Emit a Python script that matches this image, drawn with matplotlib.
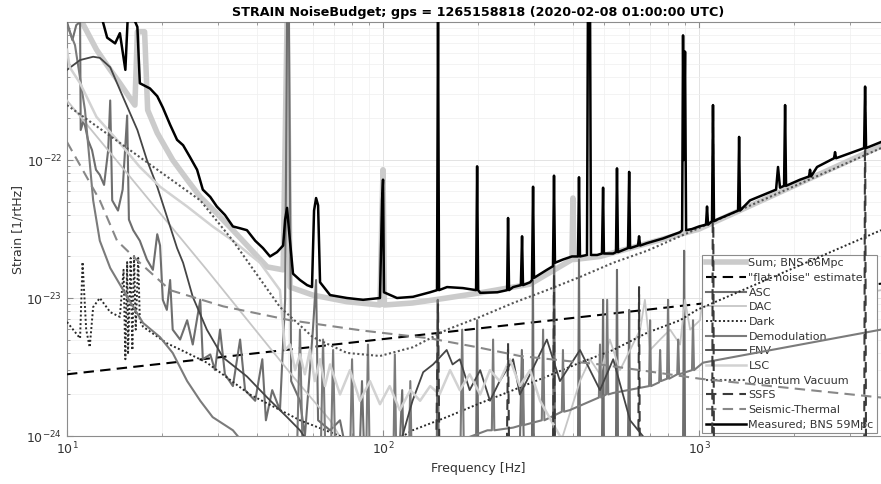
import numpy as np
import matplotlib
matplotlib.use('Agg')
import matplotlib.pyplot as plt

TITLE = 'STRAIN NoiseBudget; gps = 1265158818 (2020-02-08 01:00:00 UTC)'

# (frequency [Hz], strain [1/rtHz]) pairs
measured = [
    (12.6, 1.3e-21), (13.4, 7.7e-22), (14.2, 7.0e-22), (14.7, 8.3e-22), (15.3, 4.5e-22),
    (15.6, 1.2e-21), (15.9, 1.2e-21), (16.7, 9.2e-22), (17.0, 3.6e-22), (18.3, 3.3e-22),
    (19.3, 2.9e-22), (20.1, 2.4e-22), (21.2, 1.8e-22), (22.3, 1.4e-22), (23.3, 1.28e-22),
    (24.5, 1.05e-22), (25.8, 8.5e-23), (26.9, 6.1e-23), (28.4, 5.4e-23), (29.8, 4.6e-23),
    (31.6, 4.0e-23), (33.5, 3.3e-23), (35.3, 3.2e-23), (37.1, 3.1e-23), (39.4, 2.6e-23),
    (41.7, 2.3e-23), (43.9, 2.0e-23), (46.2, 2.15e-23), (48.3, 2.4e-23), (49.0, 3.7e-23),
    (49.7, 4.5e-23), (50.4, 3.1e-23), (51.9, 1.5e-23), (54.6, 1.35e-23), (57.5, 1.24e-23),
    (59.6, 1.2e-23), (60.5, 4.3e-23), (61.4, 5.3e-23), (62.3, 4.7e-23), (63.2, 1.3e-23),
    (68.0, 1.05e-23), (76.9, 1.0e-23), (86.5, 9.7e-24), (97.8, 1.0e-23), (99.3, 5.1e-23),
    (100, 7.2e-23), (100.7, 1.1e-23), (110.7, 1.0e-23), (124.4, 1.02e-23), (140.8, 1.1e-23),
    (148.2, 1.14e-23), (149.3, 1.2e-21), (150.4, 1.14e-23), (159.4, 1.2e-23), (179, 1.18e-23),
    (197, 1.14e-23), (198.5, 9.0e-23), (200, 1.14e-23), (203, 1.09e-23), (230, 1.1e-23),
    (247, 1.14e-23), (248.7, 3.8e-23), (250.5, 1.14e-23), (258, 1.2e-23), (273, 1.24e-23),
    (275.4, 2.8e-23), (277.3, 1.24e-23), (292, 1.3e-23), (296, 1.35e-23), (298.4, 6.4e-23),
    (300.5, 1.4e-23), (330, 1.6e-23), (345, 1.7e-23), (347.6, 7.7e-23), (350, 1.8e-23),
    (371, 1.9e-23), (396, 2.0e-23), (414, 2.0e-23), (417, 7.5e-23), (420, 2.0e-23),
    (442, 2.05e-23), (445, 1.2e-21), (452, 1.2e-21), (455, 2.05e-23), (476, 2.05e-23),
    (493, 2.1e-23), (497, 6.3e-23), (500, 2.1e-23), (535, 2.1e-23), (546, 2.15e-23),
    (550, 8.7e-23), (554, 2.15e-23), (596, 2.3e-23), (601, 8.2e-23), (605, 2.3e-23),
    (641, 2.4e-23), (646, 2.8e-23), (651, 2.4e-23), (685, 2.5e-23), (769, 2.7e-23),
    (871, 3.0e-23), (884, 3.1e-23), (890, 8.0e-22), (895, 1.0e-22), (903, 6.1e-22),
    (910, 3.1e-23), (950, 3.16e-23), (1000, 3.3e-23), (1052, 3.4e-23), (1060, 4.6e-23),
    (1068, 3.4e-23), (1099, 3.6e-23), (1107, 2.5e-22), (1115, 3.6e-23), (1140, 3.7e-23),
    (1329, 4.3e-23), (1339, 1.47e-22), (1348, 4.3e-23), (1450, 5.1e-23), (1753, 6.1e-23),
    (1778, 8.9e-23), (1804, 6.3e-23), (1858, 6.5e-23), (1872, 2.5e-22), (1885, 6.5e-23),
    (2087, 7.2e-23), (2229, 7.6e-23), (2245, 8.5e-23), (2262, 7.6e-23), (2363, 8.9e-23),
    (2674, 1.03e-22), (2694, 1.14e-22), (2714, 1.03e-22), (3005, 1.12e-22), (3329, 1.22e-22),
    (3353, 3.4e-22), (3377, 1.22e-22), (3767, 1.35e-22),
]

noise_sum = [
    (10.9, 1.2e-21), (11.2, 9.8e-22), (12.4, 6.3e-22), (13.7, 4.5e-22), (14.7, 3.6e-22),
    (16.2, 2.6e-22), (16.4, 2.5e-22), (16.7, 8.5e-22), (17.6, 8.5e-22), (18.0, 2.3e-22),
    (19.3, 1.57e-22), (21.6, 1.0e-22), (24.0, 7.2e-23), (26.4, 5.4e-23), (29.8, 4.1e-23),
    (33.5, 3.1e-23), (43.0, 1.68e-23), (48.3, 1.6e-23), (49.7, 1.0e-21), (50.8, 1.2e-23),
    (60.0, 1.05e-23), (76.9, 9.4e-24), (97.8, 8.9e-24), (100, 8.5e-23), (101, 8.9e-24),
    (124, 9.2e-24), (159, 1.0e-23), (203, 1.09e-23), (292, 1.26e-23), (396, 1.9e-23),
    (399, 5.3e-23), (402, 1.9e-23), (486, 2.0e-23), (1000, 3.16e-23), (3767, 1.26e-22),
]

flat_noise = [(10, 2.8e-24), (1060, 9.2e-24), (3767, 1.27e-23)]

asc = [
    (10, 1.0e-21), (10.4, 7.4e-22), (10.7, 9.5e-22), (11.0, 1.0e-21), (11.05, 1.65e-22),
    (11.3, 1.95e-22), (11.65, 1.4e-22), (12.0, 1.18e-22), (12.35, 8.5e-23), (12.7, 7.8e-23),
    (13.1, 6.6e-23), (13.5, 1.18e-22), (13.7, 2.7e-22), (13.9, 5.1e-23), (14.5, 4.3e-23),
    (15.0, 6.1e-23), (15.5, 2.1e-22), (15.7, 3.7e-23), (16.2, 3.1e-23), (17.0, 2.6e-23),
    (17.9, 1.9e-23), (18.7, 1.6e-23), (19.3, 2.9e-23), (19.7, 2.4e-23), (20.1, 9.7e-24),
    (20.7, 8.2e-24), (21.2, 1.35e-23), (21.6, 5.9e-24), (22.8, 5.0e-24), (24.0, 6.9e-24),
    (25.0, 4.6e-24), (26.4, 9.7e-24), (26.9, 3.6e-24), (28.4, 3.9e-24), (29.4, 3.0e-24),
    (30.5, 5.9e-24), (31.6, 2.8e-24), (33.5, 2.3e-24), (35.3, 5.0e-24), (36.6, 2.15e-24),
    (39.4, 1.8e-24), (41.5, 3.6e-24), (42.6, 1.3e-24), (44.6, 2.15e-24), (47.2, 1.54e-24),
    (49.0, 9.7e-24), (49.7, 1.0e-21), (50.4, 1.0e-21), (51.2, 2.5e-24), (54.6, 1.8e-24),
    (56.6, 1.0e-24), (60.0, 5.9e-24), (61.4, 1.35e-23), (62.3, 1.3e-24), (68.0, 1.1e-24),
    (73.1, 1.3e-24), (75.8, 8.6e-25), (84.5, 8.6e-25), (85.8, 2.5e-24), (87.0, 8.6e-25),
    (113, 8.6e-25), (115, 2.15e-24), (116, 8.6e-25), (148, 8.6e-25), (149, 9.7e-24),
    (150, 8.6e-25), (197, 8.6e-25), (198.5, 6.9e-24), (200, 8.6e-25), (271, 8.6e-25),
    (275, 4.2e-24), (279, 8.6e-25), (296, 8.6e-25), (298, 1.35e-23), (300, 8.6e-25),
    (345, 9e-25), (348, 2.6e-23), (350, 9e-25), (414, 9e-25), (417, 1.9e-23), (420, 9e-25),
    (493, 9e-25), (497, 9.7e-24), (500, 9e-25), (546, 9e-25), (550, 1.6e-23), (554, 9e-25),
    (596, 9e-25), (601, 8.2e-24), (605, 9e-25), (890, 9e-25), (897, 2.2e-23), (903, 9e-25),
    (3767, 9e-25),
]

dac = [
    (10, 2.7e-22), (27.7, 1.6e-23), (51.9, 2.7e-24), (68.0, 1.3e-24), (75.8, 8.6e-25),
    (363, 8.6e-25), (420, 2.5e-24), (452, 3.6e-24), (486, 2.8e-24), (522, 5.0e-24),
    (562, 3.0e-24), (605, 4.2e-24), (651, 5.9e-24), (674, 9.7e-24), (700, 4.2e-24),
    (753, 5.0e-24), (810, 5.9e-24), (871, 4.6e-24), (903, 9.7e-24), (937, 5.9e-24),
    (1007, 6.9e-24), (1045, 1.35e-23), (1083, 6.9e-24), (3767, 1.14e-23),
]

dark = [
    (10, 6.7e-24), (11.0, 5.1e-24), (11.2, 1.82e-23), (11.5, 5.9e-24), (11.8, 4.4e-24),
    (12.1, 8.6e-24), (12.7, 1.0e-23), (13.7, 7.9e-24), (14.7, 7.3e-24), (15.1, 1.6e-23),
    (15.3, 3.6e-24), (15.5, 1.82e-23), (15.6, 3.9e-24), (15.9, 1.95e-23), (16.1, 4.2e-24),
    (16.3, 2.05e-23), (16.5, 5.9e-24), (16.8, 1.95e-23), (17.0, 6.9e-24), (17.4, 6.2e-24),
    (20.7, 4.7e-24), (24.0, 4.0e-24), (27.7, 3.4e-24), (37.9, 2.0e-24), (54.6, 1.3e-24),
    (73.1, 1.0e-24), (97.8, 7.9e-25), (124, 1.1e-24), (159, 1.37e-24), (203, 1.73e-24),
    (258, 2.15e-24), (330, 2.7e-24), (420, 3.4e-24), (535, 4.2e-24), (685, 5.6e-24),
    (871, 6.9e-24), (985, 8.2e-24), (3767, 3.1e-23),
]

demodulation = [
    (10, 9.5e-22), (10.6, 6.8e-22), (11.4, 2.3e-22), (12.1, 5.1e-23), (12.7, 2.6e-23),
    (13.7, 1.65e-23), (15.5, 1.02e-23), (17.4, 6.6e-24), (19.7, 5.2e-24), (21.6, 4.0e-24),
    (24.0, 2.5e-24), (26.4, 1.8e-24), (28.9, 1.37e-24), (33.5, 1.1e-24), (36.6, 8.6e-25),
    (53.5, 8.6e-25), (54.6, 5.9e-24), (55.6, 8.6e-25), (63.6, 8.6e-25), (64.6, 5.0e-24),
    (65.6, 8.6e-25), (68.5, 8.6e-25), (69.5, 4.2e-24), (70.5, 8.6e-25), (78.8, 8.6e-25),
    (79.8, 3.6e-24), (80.8, 8.6e-25), (88.6, 8.6e-25), (89.6, 4.6e-24), (90.6, 8.6e-25),
    (108, 8.6e-25), (109, 3.9e-24), (110, 8.6e-25), (121, 8.6e-25), (122, 2.5e-24),
    (123, 8.6e-25), (131, 8.6e-25), (176, 9.5e-25), (178, 5.9e-24), (180, 9.5e-25),
    (214, 1.1e-24), (221, 1.1e-24), (223, 5.0e-24), (225, 1.1e-24), (258, 1.15e-24),
    (275, 1.2e-24), (277, 3.6e-24), (279, 1.2e-24), (318, 1.3e-24), (321, 5.9e-24),
    (324, 1.3e-24), (368, 1.5e-24), (371, 4.2e-24), (374, 1.5e-24), (390, 1.54e-24),
    (482, 1.9e-24), (486, 4.6e-24), (490, 1.9e-24), (508, 2.0e-24), (512, 9.7e-24),
    (516, 2.0e-24), (535, 2.05e-24), (695, 2.3e-24), (700, 6.9e-24), (705, 2.3e-24),
    (748, 2.45e-24), (753, 4.2e-24), (758, 2.5e-24), (792, 2.6e-24), (798, 9.7e-24),
    (804, 2.6e-24), (853, 2.8e-24), (859, 5.0e-24), (865, 2.8e-24), (950, 3.0e-24),
    (957, 6.9e-24), (964, 3.0e-24), (1030, 3.4e-24), (3767, 5.9e-24),
]

env = [
    (10, 4.5e-22), (11.0, 5.3e-22), (12.1, 5.6e-22), (12.7, 5.5e-22), (13.7, 4.7e-22),
    (15.0, 2.9e-22), (16.7, 1.65e-22), (17.9, 1.0e-22), (19.3, 6.4e-23), (20.7, 3.9e-23),
    (22.3, 2.3e-23), (23.3, 1.8e-23), (25.0, 1.02e-23), (27.7, 5.9e-24), (31.2, 3.7e-24),
    (37.1, 2.7e-24), (43.0, 1.9e-24), (49.7, 1.37e-24), (54.6, 1.1e-24), (58.7, 8.6e-25),
    (113, 8.6e-25), (124, 1.8e-24), (134, 2.9e-24), (144, 3.3e-24), (151, 3.7e-24),
    (159, 4.2e-24), (166, 3.3e-24), (175, 3.6e-24), (188, 2.15e-24), (203, 3.0e-24),
    (218, 1.8e-24), (234, 2.5e-24), (258, 3.6e-24), (271, 2.0e-24), (292, 2.8e-24),
    (330, 5.0e-24), (363, 2.5e-24), (420, 4.2e-24), (486, 2.15e-24), (535, 3.6e-24),
    (605, 1.3e-24), (700, 8.6e-25), (3767, 8.6e-25),
]

lsc = [
    (10, 6.3e-22), (10.2, 4.7e-22), (11.0, 3.6e-22), (12.4, 2.05e-22), (14.4, 1.4e-22),
    (17.0, 8.9e-23), (19.7, 6.4e-23), (24.0, 4.6e-23), (28.9, 3.3e-23), (33.5, 2.6e-23),
    (40.8, 1.8e-23), (47.2, 1.14e-23), (49.0, 4.2e-24), (50.8, 4.6e-24), (52.7, 3.0e-24),
    (54.6, 3.9e-24), (56.6, 2.8e-24), (58.7, 4.2e-24), (60.8, 2.5e-24), (63.2, 3.6e-24),
    (65.5, 2.3e-24), (68.0, 3.3e-24), (73.1, 2.0e-24), (78.6, 3.0e-24), (84.5, 1.8e-24),
    (90.9, 2.5e-24), (97.8, 1.7e-24), (105, 2.3e-24), (113, 1.54e-24), (122, 2.15e-24),
    (131, 1.8e-24), (141, 2.3e-24), (151, 2.0e-24), (163, 3.0e-24), (175, 2.15e-24),
    (188, 2.8e-24), (203, 2.0e-24), (218, 3.0e-24), (234, 2.5e-24), (252, 3.6e-24),
    (271, 2.3e-24), (292, 3.0e-24), (314, 1.8e-24), (363, 1.0e-24), (420, 8.6e-25),
    (3767, 8.6e-25),
]

quantum = [
    (10, 2.5e-22), (26.4, 5.1e-23), (33.5, 2.6e-23), (47.2, 8.6e-24), (60.0, 5.2e-24),
    (76.9, 4.0e-24), (97.8, 3.8e-24), (124.4, 4.4e-24), (159.4, 5.9e-24), (203, 7.3e-24),
    (258, 9.2e-24), (330, 1.14e-23), (420, 1.42e-23), (535, 1.8e-23), (685, 2.2e-23),
    (871, 2.8e-23), (3767, 1.22e-22),
]

ssfs = [
    (10, 5e-25), (147, 5e-25), (149.3, 9e-24), (151, 5e-25), (246, 5e-25), (248.7, 4.7e-24),
    (251, 5e-25), (345, 5e-25), (347.6, 1.5e-23), (350, 5e-25), (642, 5e-25), (645.9, 1.2e-23),
    (650, 5e-25), (1100, 5e-25), (1107, 2.5e-22), (1115, 5e-25), (3330, 5e-25),
    (3353, 3.4e-22), (3377, 5e-25), (3767, 5e-25),
]

seismic_thermal = [
    (10, 1.35e-22), (12.7, 5.1e-23), (14.4, 2.6e-23), (17.0, 1.8e-23), (21.2, 1.14e-23),
    (31.2, 8.7e-24), (50.8, 6.9e-24), (86.5, 5.8e-24), (140.8, 5.1e-24), (198.5, 4.4e-24),
    (271, 3.8e-24), (486, 3.3e-24), (1007, 2.6e-24), (3767, 1.9e-24),
]

# legend order: label, data, colour, linestyle, linewidth
SERIES = [
    ('Sum; BNS 66Mpc', noise_sum, '#cbcbcb', '-', 4.0),
    ('"flat noise" estimate', flat_noise, '#000000', (0, (5, 3)), 1.5),
    ('ASC', asc, '#6e6e6e', '-', 1.5),
    ('DAC', dac, '#c6c6c6', '-', 1.3),
    ('Dark', dark, '#2a2a2a', (0, (1, 1.2)), 1.4),
    ('Demodulation', demodulation, '#7b7b7b', '-', 1.5),
    ('ENV', env, '#454545', '-', 1.3),
    ('LSC', lsc, '#d2d2d2', '-', 1.8),
    ('Quantum Vacuum', quantum, '#555555', (0, (1, 1.2)), 1.5),
    ('SSFS', ssfs, '#3a3a3a', (0, (5, 3)), 1.5),
    ('Seismic-Thermal', seismic_thermal, '#888888', (0, (5, 3)), 1.5),
    ('Measured; BNS 59Mpc', measured, '#000000', '-', 1.8),
]

fig = plt.figure(figsize=(8.81, 4.84), dpi=100)
ax = fig.add_axes([67 / 881, 48 / 484, 822.3 / 881, 414 / 484])

for i, (label, pairs, colour, ls, lw) in enumerate(SERIES):
    arr = np.array(pairs)
    ax.plot(arr[:, 0], arr[:, 1], color=colour, linestyle=ls, linewidth=lw,
            label=label, zorder=2 + i)

ax.set_xscale('log')
ax.set_yscale('log')
ax.set_xlim(10, 4000)
ax.set_ylim(1e-24, 1e-21)
ax.set_yticks([1e-24, 1e-23, 1e-22])
ax.set_xticks([1e1, 1e2, 1e3])

ax.grid(True, which='major', color='#dedede', linewidth=0.6)
ax.grid(True, which='minor', color='#efefef', linewidth=0.5)
ax.set_axisbelow(True)
ax.tick_params(which='both', direction='in', top=True, right=True,
               color='#8c8c8c', labelsize=9, labelcolor='#333333')
ax.tick_params(which='major', length=4)
ax.tick_params(which='minor', length=2)
for sp in ax.spines.values():
    sp.set_color('#8c8c8c')
    sp.set_linewidth(0.8)

ax.set_title(TITLE, fontsize=9.2, fontweight='bold', pad=4)
ax.set_xlabel('Frequency [Hz]', fontsize=9, color='#333333', labelpad=3)
ax.set_ylabel('Strain [1/rtHz]', fontsize=9, color='#333333', labelpad=1)

leg = ax.legend(loc='lower right', bbox_to_anchor=((877 - 67) / 822.3, 3 / 414),
                borderaxespad=0, fontsize=8, labelspacing=0.42, handlelength=3.6,
                handletextpad=0.25, borderpad=0.3, fancybox=False, framealpha=1)
leg.get_frame().set_edgecolor('#8c8c8c')
leg.get_frame().set_linewidth(0.8)
for txt in leg.get_texts():
    txt.set_color('#333333')

fig.savefig('out.png', dpi=100, facecolor='white')
